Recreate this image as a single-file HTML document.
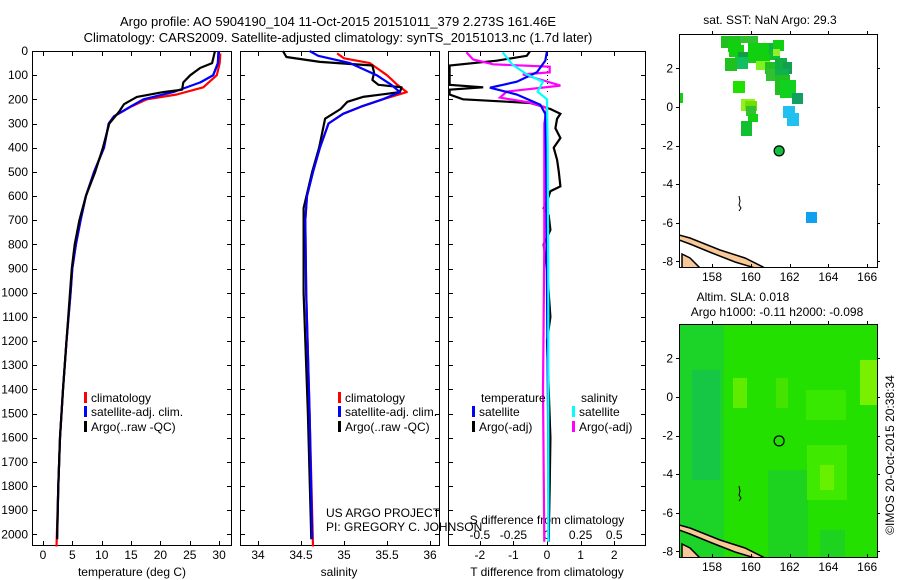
<!DOCTYPE html>
<html><head><meta charset="utf-8"><style>
body{margin:0;background:#fff;}
svg{display:block;font-family:"Liberation Sans",sans-serif;}
text{fill:#000;}
</style></head><body>
<svg id="chart" width="900" height="580" viewBox="0 0 900 580">
<g id="g"></g>
</svg>
<script>
// ---- data ----
const depthTicks=[0,100,200,300,400,500,600,700,800,900,1000,1100,1200,1300,1400,1500,1600,1700,1800,1900,2000];
const tempTicks=[0,5,10,15,20,25,30];
const salTicks=[34,34.5,35,35.5,36];
const tdTicks=[-2,-1,0,1,2];
const sdTicks=[-0.5,-0.25,0,0.25,0.5];
const sdTickLabels=["-0.5","-0.25","0","0.25","0.5"];
// temperature profiles [depth, value]
const tempClimDepth=[10,50,100,150,180,200,230,270,300,400,500,600,700,800,900,1000,1200,1400,1600,1800,2050];
const tempClim=[30.2,30.1,29.6,27.3,22.8,17.7,15.0,12.1,11.2,10.4,8.7,7.3,6.4,5.6,5.0,4.7,4.0,3.4,2.9,2.6,2.3];
const tempSatDepth=[0,50,100,130,170,200,230,270,300,400,500,600,700,800,900,1000,1200,1400,1600,1800,2020];
const tempSat=[29.9,29.8,29.0,26.8,22.2,17.1,14.9,12.1,11.2,10.4,8.7,7.3,6.4,5.6,5.0,4.7,4.0,3.4,2.9,2.6,2.4];
const tempArgoDepth=[0,50,70,100,130,160,170,190,220,250,300,400,500,600,700,800,900,1000,1200,1400,1600,1800,2020];
const tempArgo=[29.3,28.8,26.8,25.1,23.9,23.7,20.5,16.0,13.8,13.0,11.3,10.2,8.9,7.3,6.2,5.4,4.9,4.6,4.0,3.4,2.9,2.6,2.4];
// salinity profiles
const salClimDepth=[10,30,50,100,140,170,200,230,260,300,400,500,600,700,1000,1500,2050];
const salClim=[34.92,35.0,35.3,35.5,35.62,35.73,35.45,35.2,34.99,34.82,34.72,34.64,34.57,34.55,34.56,34.6,34.64];
const salSatDepth=[0,20,50,100,140,170,200,230,260,300,400,500,600,700,1000,1500,2020];
const salSat=[34.6,34.7,35.07,35.38,35.55,35.65,35.45,35.2,34.99,34.82,34.72,34.64,34.57,34.55,34.56,34.6,34.63];
const salArgoDepth=[0,25,45,60,90,120,140,150,170,190,210,240,280,400,500,650,1000,1500,2020];
const salArgo=[34.29,34.33,34.72,35.33,35.35,35.33,35.4,35.67,35.65,35.22,35.04,34.96,34.78,34.71,34.63,34.53,34.53,34.58,34.62];
// differences
const tdSatDepth=[0,40,88,127,152,180,222,260,500,1000,1500,2030];
const tdSat=[0.0,-0.05,-0.3,-0.9,-1.7,-0.9,-0.2,-0.05,-0.02,0.0,0.03,0.05];
const tdArgoDepth=[0,20,40,60,70,140,150,160,180,200,215,240,260,280,320,360,400,450,500,560,580,620,650,680,740,800,850,900,1000,1100,1200,1400,1600,1800,2020];
const tdArgo=[-0.5,-0.6,-1.5,-2.9,-2.9,-2.9,-1.9,-2.9,-2.9,-2.5,-0.5,0.1,0.4,0.3,0.25,0.4,0.2,0.3,0.35,0.4,0.1,0.0,-0.1,0.05,0.1,-0.1,-0.05,0.0,0.05,0.1,0.0,0.05,0.1,0.08,0.05];
const sdSatDepth=[5,55,97,127,168,200,400,1000,2030];
const sdSat=[-0.33,-0.26,-0.15,-0.03,-0.07,0.0,0.005,0.01,0.01];
const sdArgoDepth=[5,35,55,65,88,97,118,143,168,193,213,235,300,800,1400,2030];
const sdArgo=[-0.6,-0.55,-0.4,0.02,0.02,-0.18,-0.05,0.1,-0.3,-0.35,-0.13,0.0,-0.02,-0.02,-0.03,-0.02];

// ---- scales ----
const yD=d=>51+d*0.2417;
const xT=t=>43+t*5.87;
const xS=s=>258+(s-34)*86;
const xTD=v=>547+v*33.6;
const xSD=v=>547+v*134.4;
const NS='http://www.w3.org/2000/svg';
const g=document.getElementById('g');
function el(tag,attrs,parent){const e=document.createElementNS(NS,tag);for(const k in attrs)e.setAttribute(k,attrs[k]);(parent||g).appendChild(e);return e;}
function txt(x,y,s,anchor,parent,size){const e=el('text',{x:x,y:y,'font-size':size||12,'text-anchor':anchor||'middle'},parent);e.textContent=s;return e;}

// titles
let t1=txt(338,26,"Argo profile: AO 5904190_104 11-Oct-2015 20151011_379 2.273S 161.46E",'middle',null,13);


let t2=txt(338,42,"Climatology: CARS2009. Satellite-adjusted climatology: synTS_20151013.nc (1.7d later)",'middle',null,13);



const panels=[[32,231,'temperature-panel'],[240,439,'salinity-panel'],[448,645,'difference-panel']];
const TOP=51,BOT=545;
panels.forEach(p=>{
  const fr=el('rect',{x:p[0]+0.5,y:TOP+0.5,width:p[1]-p[0],height:BOT-TOP,fill:'none',stroke:'#000','stroke-width':1});
  
  
  depthTicks.forEach(d=>{
    const y=Math.round(yD(d))+0.5;
    el('line',{x1:p[0],x2:p[0]+5,y1:y,y2:y,stroke:'#000'});
    el('line',{x1:p[1]-4,x2:p[1]+1,y1:y,y2:y,stroke:'#000'});
  });
});
// depth labels
depthTicks.forEach(d=>{const e=txt(28,yD(d)+4,String(d),'end');
  
  });

function xticks(ticks,fx,labels,ly,name,topTick){
  ticks.forEach((v,i)=>{const x=Math.round(fx(v))+0.5;
    el('line',{x1:x,x2:x,y1:BOT-4,y2:BOT+1,stroke:'#000'});
    if(topTick)el('line',{x1:x,x2:x,y1:TOP,y2:TOP+5,stroke:'#000'});
    const e=txt(fx(v),ly,labels?labels[i]:String(v));
    
    });
}
xticks(tempTicks,xT,null,559,'temperature-tick-label',true);
xticks(salTicks,xS,null,559,'salinity-tick-label',true);
xticks(tdTicks,xTD,null,559,'t-difference-tick-label',true);
sdTicks.forEach((v,i)=>{const e=txt(xSD(v),539,sdTickLabels[i]);
  
  });
let a;
a=txt(132,576,"temperature (deg C)");
a=txt(339,576,"salinity");
a=txt(547,576,"T difference from climatology");
a=txt(547,524,"S difference from climatology");

function line(ds,vs,fx,color,name,w){
  const pts=ds.map((d,i)=>fx(vs[i]).toFixed(1)+','+yD(d).toFixed(1)).join(' ');
  const e=el('polyline',{points:pts,fill:'none',stroke:color,'stroke-width':w||2.2,'stroke-linejoin':'round'});
  
  
}
function clip(id,x1,x2){const c=el('clipPath',{id:id});el('rect',{x:x1+1,y:TOP+1,width:x2-x1-1,height:BOT-TOP-1},c);}
clip('c3',448,645);
// panel 1
line(tempClimDepth,tempClim,xT,'#f00','temperature-climatology-line');
line(tempSatDepth,tempSat,xT,'#00f','temperature-satellite-line');
line(tempArgoDepth,tempArgo,xT,'#000','temperature-argo-line');
line(tempSatDepth.slice(0,4),tempSat.slice(0,4),xT,'#00f','temperature-satellite-line-top');
// panel 2
line(salClimDepth,salClim,xS,'#f00','salinity-climatology-line');
line(salArgoDepth,salArgo,xS,'#000','salinity-argo-line');
line(salSatDepth,salSat,xS,'#00f','salinity-satellite-line');
// panel 3
el('line',{x1:547.5,x2:547.5,y1:TOP,y2:92,stroke:'#000','stroke-dasharray':'1,3'});
const p3=el('g',{'clip-path':'url(#c3)'});
function line3(ds,vs,fx,color,name){
  const pts=ds.map((d,i)=>fx(vs[i]).toFixed(1)+','+yD(d).toFixed(1)).join(' ');
  const e=el('polyline',{points:pts,fill:'none',stroke:color,'stroke-width':2.2},p3);
  
  
}
line3(tdArgoDepth,tdArgo,xTD,'#000','t-difference-argo-line');
line3(sdArgoDepth,sdArgo,xSD,'#f0f','s-difference-argo-line');
line3(tdSatDepth,tdSat,xTD,'#00f','t-difference-satellite-line');
line3(sdSatDepth,sdSat,xSD,'#0ff','s-difference-satellite-line');

// legends
function leg(x,y,color,label,name){
  el('rect',{x:x,y:y-10,width:3,height:11,fill:color});
  const e=txt(x+7,y,label,'start');
  
  
}
leg(84,402,'#f00','climatology','legend-climatology');
leg(84,416,'#00f','satellite-adj. clim.','legend-satellite-adj');
leg(84,431,'#000','Argo(..raw -QC)','legend-argo');
leg(338,402,'#f00','climatology','legend2-climatology');
leg(338,416,'#00f','satellite-adj. clim.','legend2-satellite-adj');
leg(338,431,'#000','Argo(..raw -QC)','legend2-argo');
a=txt(481,402,'temperature','start');
a=txt(581,402,'salinity','start');
leg(472,416,'#00f','satellite','legend3-t-satellite');
leg(472,431,'#000','Argo(-adj)','legend3-t-argo');
leg(572,416,'#0ff','satellite','legend3-s-satellite');
leg(572,431,'#f0f','Argo(-adj)','legend3-s-argo');
a=txt(326,517,'US ARGO PROJECT','start');
a=txt(326,531,'PI: GREGORY C. JOHNSON','start');

// ---- maps ----
const mapLon=[158,160,162,164,166];
const mapLat=[2,0,-2,-4,-6,-8];
const argoLon=161.46, argoLat=-2.273;
const mx=lon=>712+(lon-158)*19.4;
function map(y0,off,name,bg){
  const X1=679,X2=877,Y1=y0,Y2=y0+233;
  const my=lat=>off+107-lat*19.3;
  const cid='clip'+name;
  const c=el('clipPath',{id:cid});el('rect',{x:X1,y:Y1,width:X2-X1,height:Y2-Y1},c);
  const gg=el('g',{'clip-path':'url(#'+cid+')'});
  
  
  bg(gg,off);
  // coastline
  el('path',{d:`M679,${off+235} L690,${off+238} L720,${off+250} L745,${off+258} L765,${off+268} L755,${off+268} L735,${off+262} L712,${off+253} L690,${off+244} L679,${off+240}Z`,fill:'#f8c898',stroke:'#000','stroke-width':1.5},gg);
  el('path',{d:`M682,${off+254} L690,${off+258} L700,${off+268} L682,${off+268}Z`,fill:'#f8c898',stroke:'#000','stroke-width':1.5},gg);
  el('path',{d:`M739,${off+196} l1,5 l-1,4 l2,3 l-2,3`,fill:'none',stroke:'#000','stroke-width':1},gg);
  el('rect',{x:X1+0.5,y:Y1+0.5,width:X2-X1,height:Y2-Y1,fill:'none',stroke:'#000'});
  mapLon.forEach(l=>{const x=Math.round(mx(l))+0.5;
    el('line',{x1:x,x2:x,y1:Y2-3,y2:Y2+1,stroke:'#000'});el('line',{x1:x,x2:x,y1:Y1-3,y2:Y1+1,stroke:'#000'});
    const e=txt(mx(l),Y2+14,String(l));});
  mapLat.forEach(l=>{const y=Math.round(my(l))+0.5;
    el('line',{x1:X1-3,x2:X1,y1:y,y2:y,stroke:'#000'});el('line',{x1:X2,x2:X2+3,y1:y,y2:y,stroke:'#000'});
    const e=txt(673,my(l)+4,String(l),'end');});
  const ci=el('circle',{cx:mx(argoLon),cy:my(argoLat),r:5,fill:name==='sst-map'?'#10c040':'none',stroke:'#000','stroke-width':1.2});
  
  
}
map(34,0,'sst-map',(gg,off)=>{
  const sq=[[721,36,20,12,'#20c020'],[740,36,18,7,'#30c030'],[728,40,12,12,'#10d010'],[729,45,15,12,'#10d010'],[738,52,12,10,'#10a040'],[735,57,13,12,'#10c060'],[725,58,12,13,'#20c020'],[748,43,22,20,'#10d010'],[769,43,10,12,'#10b050'],[773,40,11,11,'#10d010'],[770,50,10,10,'#10c030'],[773,49,7,7,'#90f030'],[756,61,14,9,'#80f020'],[765,62,11,12,'#20c020'],[775,58,12,12,'#10b040'],[783,62,9,12,'#10a050'],[766,69,12,12,'#30c030'],[775,69,14,12,'#10b050'],[775,75,15,20,'#20c020'],[780,80,16,18,'#10d020'],[792,93,11,11,'#10a060'],[733,81,12,12,'#20e000'],[741,99,14,12,'#90f020'],[745,101,12,10,'#70e000'],[746,106,10,10,'#30c030'],[748,114,10,8,'#10d010'],[741,121,11,15,'#10c030'],[783,106,12,12,'#20c0f0'],[787,113,12,13,'#20c0f0'],[806,212,11,11,'#10a0f0'],[679,93,4,10,'#10d010']];
  sq.forEach(s=>{el('rect',{x:s[0],y:s[1],width:s[2],height:s[3],fill:s[4]},gg);});
});
map(324,290,'sla-map',(gg,off)=>{
  el('rect',{x:679,y:324,width:198,height:233,fill:'#24e000'},gg);
  el('rect',{x:679,y:324,width:45,height:233,fill:'#14c850',opacity:0.5},gg);
  el('rect',{x:692,y:370,width:28,height:110,fill:'#10b868',opacity:0.45},gg);
  el('rect',{x:768,y:470,width:40,height:87,fill:'#18c048',opacity:0.45},gg);
  el('rect',{x:733,y:378,width:14,height:30,fill:'#60ec00'},gg);
  el('rect',{x:776,y:378,width:12,height:30,fill:'#44e400'},gg);
  el('rect',{x:806,y:390,width:40,height:30,fill:'#38e800'},gg);
  el('rect',{x:807,y:445,width:40,height:55,fill:'#40ea00'},gg);
  el('rect',{x:820,y:465,width:14,height:25,fill:'#68f000'},gg);
  el('rect',{x:860,y:360,width:17,height:45,fill:'#78f000'},gg);
  el('rect',{x:820,y:530,width:25,height:27,fill:'#18c048',opacity:0.45},gg);
});
a=txt(770,24,'sat. SST: NaN Argo: 29.3');
a=txt(743,301,'Altim. SLA: 0.018');
a=txt(777,316,'Argo h1000: -0.11 h2000: -0.098');
a=txt(0,0,'©IMOS 20-Oct-2015 20:38:34');a.setAttribute('transform','translate(894,455) rotate(-90)');

</script>
</body></html>
